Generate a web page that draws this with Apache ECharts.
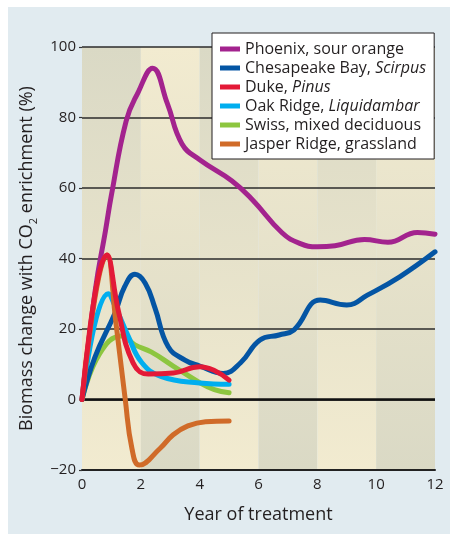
<!DOCTYPE html>
<html>
<head>
<meta charset="utf-8">
<script src="https://cdn.jsdelivr.net/npm/echarts@6/dist/echarts.min.js"></script>
<style>
  html, body { margin: 0; padding: 0; background: #ffffff; }
  #chart {
    width: 450px; height: 534px;
    background: linear-gradient(#e1ebf0, #e1ebf0) no-repeat 8px 7px / 442px 527px, #ffffff;
  }
</style>
</head>
<body>
<div id="chart"></div>
<script>
// ---- data ----
const seriesNames = ['Phoenix, sour orange', 'Chesapeake Bay, Scirpus', 'Duke, Pinus',
  'Oak Ridge, Liquidambar', 'Swiss, mixed deciduous', 'Jasper Ridge, grassland'];
const italicParts = ['', 'Scirpus', 'Pinus', 'Liquidambar', '', ''];
const seriesColors = ['#a3238e', '#0455a4', '#e31937', '#00aeef', '#8dc63f', '#d06b29'];

const phoenixX = [0, 0.45, 0.8, 1.0, 1.5, 1.9, 2.4, 2.9, 3.4, 4.0, 5.1, 5.8, 6.8, 7.4, 8.0, 8.6, 9.6, 10.4, 11.4, 12];
const phoenixY = [0, 31, 48, 58, 79, 87, 94, 84, 72.5, 68, 62, 56.6, 47.3, 44.3, 43.3, 43.6, 45.4, 44.6, 47.4, 46.9];

const chesX = [0, 0.44, 1.12, 1.45, 1.8, 2.15, 2.48, 2.93, 3.5, 4.0, 4.8, 5.4, 6.05, 6.7, 7.2, 8.1, 9.0, 9.7, 10.8, 12];
const chesY = [0, 12, 24.5, 32, 35.5, 33, 26, 15, 11.2, 9.5, 7.4, 10.5, 16.9, 18.3, 19.7, 28.2, 26.8, 29.6, 34.8, 41.9];

const dukeX = [0, 0.85, 1.24, 1.74, 2.25, 3.1, 4.0, 4.5, 5.0];
const dukeY = [0, 41, 25, 10.3, 7.2, 7.5, 9.3, 8.2, 5.5];

const oakX = [0, 0.89, 1.2, 1.57, 2.03, 2.7, 4.0, 5.0];
const oakY = [0, 30, 25, 18, 10.5, 6.5, 4.7, 4.3];

const swissX = [0, 0.6, 1.35, 1.8, 2.35, 3.1, 4.0, 4.5, 5.0];
const swissY = [0, 13, 18, 15.5, 13.5, 9.5, 4.8, 2.8, 1.9];

const jasperX = [0, 0.85, 1.15, 1.47, 1.7, 1.95, 2.65, 3.1, 3.6, 4.2, 5.0];
const jasperY = [0, 41, 22, 0, -14, -18.6, -13.9, -10, -7.5, -6.3, -6.1];

const xTicks = [0, 2, 4, 6, 8, 10, 12];
const yTicks = [-20, 0, 20, 40, 60, 80, 100];
const bandEdges = [0, 2, 4, 6, 8, 10, 12];

// ---- build ----
const zip = (xs, ys) => xs.map((x, i) => [x, ys[i]]);
const allData = [
  zip(phoenixX, phoenixY), zip(chesX, chesY), zip(dukeX, dukeY),
  zip(oakX, oakY), zip(swissX, swissY), zip(jasperX, jasperY)
];
// drawing order (bottom -> top)
const drawOrder = [0, 4, 3, 1, 5, 2];

const GRAY = '#dad9c5', YELLOW = '#f2ebd0';
function grad(topColor, bottomColor) {
  return { type: 'linear', x: 0, y: 0, x2: 0, y2: 1,
    colorStops: [{ offset: 0, color: topColor }, { offset: 1, color: bottomColor }] };
}
const bandData = [];
for (let i = 0; i < bandEdges.length - 1; i++) {
  const even = i % 2 === 0;
  bandData.push([
    { xAxis: bandEdges[i], itemStyle: { color: even ? grad(GRAY, YELLOW) : grad(YELLOW, GRAY) } },
    { xAxis: bandEdges[i + 1] }
  ]);
}

const FONT = '"Open Sans", "Noto Sans", sans-serif';
const TXT = '#231f20';

const series = [
  { type: 'line', name: '__bands', data: [], z: 1, silent: true,
    markArea: { silent: true, data: bandData } },
  { type: 'line', name: '__zero', data: [], z: 3, silent: true,
    markLine: { silent: true, symbol: 'none', label: { show: false },
      lineStyle: { color: '#111', width: 2.6, type: 'solid' },
      data: [{ yAxis: 0 }] } }
];
drawOrder.forEach((idx, k) => {
  series.push({
    type: 'line', name: seriesNames[idx], data: allData[idx],
    smooth: 0.45, showSymbol: false, symbol: 'none',
    color: seriesColors[idx],
    lineStyle: { width: 5, color: seriesColors[idx], cap: 'round', join: 'round' },
    z: 5 + k
  });
});

const chart = echarts.init(document.getElementById('chart'), null, { renderer: 'canvas' });
chart.setOption({
  animation: false,
  backgroundColor: 'transparent',
  textStyle: { fontFamily: FONT, color: TXT },
  grid: { left: 82, right: 15, top: 47, bottom: 64, containLabel: false },
  legend: {
    data: seriesNames,
    orient: 'vertical', left: 212, top: 33, z: 20,
    backgroundColor: '#ffffff', borderColor: '#231f20', borderWidth: 1, borderRadius: 0,
    padding: [8, 8, 7, 8],
    icon: 'rect', itemWidth: 20, itemHeight: 5, itemGap: 3,
    selectedMode: false,
    formatter: function (name) {
      const i = seriesNames.indexOf(name);
      const it = italicParts[i];
      if (it) return '{n|' + name.slice(0, name.length - it.length) + '}{i|' + it + '}';
      return '{n|' + name + '}';
    },
    textStyle: {
      fontFamily: FONT, fontSize: 16, color: TXT, lineHeight: 16,
      rich: {
        n: { fontFamily: FONT, fontSize: 16, color: TXT, lineHeight: 16 },
        i: { fontFamily: FONT, fontSize: 16, color: TXT, lineHeight: 16, fontStyle: 'italic' }
      }
    }
  },
  xAxis: {
    type: 'value', min: 0, max: 12, interval: 2, z: 2,
    axisLine: { show: true, onZero: false, lineStyle: { color: '#222', width: 2 } },
    axisTick: { show: false },
    splitLine: { show: false },
    axisLabel: { fontFamily: FONT, fontSize: 15, color: TXT, margin: 7,
      customValues: xTicks },
    name: 'Year of treatment', nameLocation: 'middle', nameGap: 36,
    nameTextStyle: { fontFamily: FONT, fontSize: 18, color: TXT }
  },
  yAxis: {
    type: 'value', min: -20, max: 100, interval: 20, z: 2,
    axisLine: { show: false },
    axisTick: { show: true, length: 3, lineStyle: { color: '#333', width: 1.2 } },
    splitLine: { show: true, lineStyle: { color: '#2b2b2b', width: 1.5 } },
    axisLabel: { fontFamily: FONT, fontSize: 15, color: TXT, margin: 6,
      formatter: v => (v < 0 ? '\u2212' + Math.abs(v) : String(v)) },
    name: 'Biomass change with CO{s|2} enrichment (%)',
    nameLocation: 'middle', nameGap: 40,
    nameTextStyle: { fontFamily: FONT, fontSize: 18, color: TXT, lineHeight: 24,
      rich: { s: { fontFamily: FONT, fontSize: 11, color: TXT, lineHeight: 11, verticalAlign: 'bottom' } } }
  },
  series: series
});
</script>
</body>
</html>
